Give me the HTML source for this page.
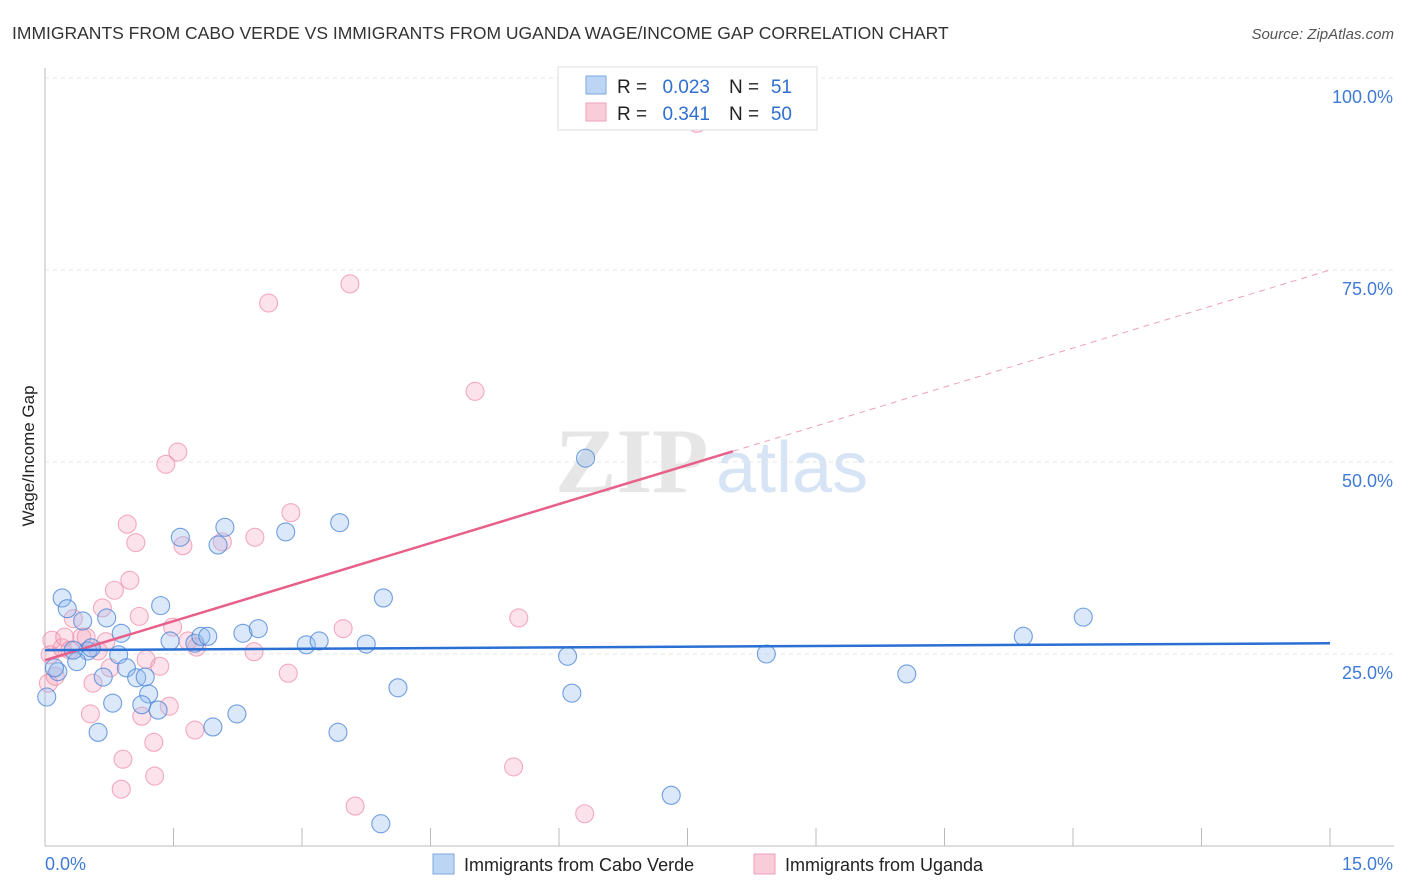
<!DOCTYPE html>
<html><head><meta charset="utf-8"><style>
body{margin:0;background:#fff;font-family:"Liberation Sans",sans-serif;}
svg{display:block}
</style></head><body>
<svg id="chart" width="1406" height="892">
<text x="12" y="39" font-size="17.5" fill="#333">IMMIGRANTS FROM CABO VERDE VS IMMIGRANTS FROM UGANDA WAGE/INCOME GAP CORRELATION CHART</text>
<text x="1394" y="39" font-size="15" fill="#555" font-style="italic" text-anchor="end">Source: ZipAtlas.com</text>
<g>
<text x="555" y="492" font-size="92" font-family="Liberation Serif,serif" fill="#e6e6e6" font-weight="bold">ZIP</text>
<text x="716" y="492" font-size="72" fill="#d6e4f5">atlas</text>
</g>
<g id="grid"></g>
<g id="axes"></g>
<g id="marks"></g>
<text transform="translate(34,456) rotate(-90)" font-size="17" fill="#222" text-anchor="middle">Wage/Income Gap</text>
<g>
<rect x="558" y="67" width="259" height="63" fill="#fff" stroke="#ddd"/>
<rect x="586" y="76" width="20" height="18" fill="#bcd5f5" stroke="#7aa6e0"/>
<rect x="586" y="103" width="20" height="18" fill="#f9ccd9" stroke="#eea2b8"/>
<text x="617" y="93" font-size="19" fill="#222">R =</text>
<text x="710" y="93" font-size="19" fill="#2f6fd0" text-anchor="end">0.023</text>
<text x="729" y="93" font-size="19" fill="#222">N =</text>
<text x="792" y="93" font-size="19" fill="#2f6fd0" text-anchor="end">51</text>
<text x="617" y="120" font-size="19" fill="#222">R =</text>
<text x="710" y="120" font-size="19" fill="#2f6fd0" text-anchor="end">0.341</text>
<text x="729" y="120" font-size="19" fill="#222">N =</text>
<text x="792" y="120" font-size="19" fill="#2f6fd0" text-anchor="end">50</text>
</g>
<g>
<rect x="433" y="854" width="21" height="20" fill="#bcd5f5" stroke="#7aa6e0"/>
<text x="464" y="871" font-size="18" fill="#222">Immigrants from Cabo Verde</text>
<rect x="754" y="854" width="21" height="20" fill="#f9ccd9" stroke="#eea2b8"/>
<text x="785" y="871" font-size="18" fill="#222">Immigrants from Uganda</text>
</g>
</svg>
<script>
const blueX=[0.02,0.20,0.26,0.44,0.50,0.37,0.15,0.68,0.62,0.72,0.79,0.89,0.86,0.95,1.07,1.17,1.21,1.13,1.32,1.35,1.46,1.58,1.75,1.82,1.90,1.96,2.02,2.10,2.24,2.31,2.49,2.81,3.05,3.20,3.44,3.42,3.75,3.95,3.92,4.12,6.10,6.15,6.31,7.31,8.42,10.06,11.42,12.12,0.11,0.33,0.54];
const blueY=[19.4,32.3,30.9,29.3,25.4,24.0,22.7,22.0,14.8,29.7,18.6,27.7,24.9,23.2,21.9,22.0,19.8,18.4,17.7,31.3,26.7,40.2,26.4,27.3,27.3,15.5,39.2,41.5,17.2,27.7,28.3,40.9,26.2,26.7,42.1,14.8,26.3,32.3,2.9,20.6,24.7,19.9,50.5,6.6,25.0,22.4,27.3,29.8,23.2,25.5,25.8];
const pinkX=[0.08,0.06,0.04,0.12,0.20,0.23,0.29,0.33,0.43,0.48,0.53,0.56,0.62,0.67,0.71,0.76,0.81,0.89,0.91,0.96,0.99,1.06,1.10,1.13,1.18,1.27,1.28,1.34,1.41,1.45,1.49,1.55,1.61,1.67,1.77,1.75,2.07,2.45,2.44,2.61,2.84,2.87,3.48,3.56,3.62,5.02,5.47,5.53,6.30,7.61];
const pinkY=[26.8,24.9,21.2,22.1,25.8,27.2,25.5,29.6,27.2,27.2,17.2,21.2,25.4,31.0,26.6,23.2,33.3,7.4,11.3,41.9,34.6,39.5,29.9,16.9,24.3,13.5,9.1,23.4,49.7,18.2,28.5,51.3,39.1,26.7,25.9,15.1,39.6,40.2,25.3,70.7,22.5,43.4,28.3,73.2,5.2,59.2,10.3,29.7,4.2,94.1];
const blueTrend=[25.5,26.4];
const pinkTrend=[24.2,75.0];
const pinkSolidEnd=8.03;
const yTicks=[25,50,75,100];
const yTickLabels=["25.0%","50.0%","75.0%","100.0%"];
const xTickVals=[0,1.5,3,4.5,6,7.5,9,10.5,12,13.5,15];
const NS="http://www.w3.org/2000/svg";
const X=v=>45+v*(1285/15);
const Y=v=>846-v*7.68;
function mk(tag,attrs,parent){const e=document.createElementNS(NS,tag);for(const k in attrs)e.setAttribute(k,attrs[k]);parent.appendChild(e);return e;}
const grid=document.getElementById('grid'),axes=document.getElementById('axes'),marks=document.getElementById('marks');
yTicks.forEach((t,i)=>{
 const l=mk('line',{x1:45,x2:1394,y1:Y(t),y2:Y(t),stroke:'#e6e6e6','stroke-dasharray':'4,4'},grid);
 
 
 const tx=mk('text',{x:1393,y:Y(t)+25,'font-size':18,fill:'#3f7bd6','text-anchor':'end'},axes);
 tx.textContent=yTickLabels[i];
 
 
});
const ax=mk('line',{x1:45,x2:45,y1:68,y2:846,stroke:'#bbb'},axes);


const bx=mk('line',{x1:45,x2:1394,y1:846,y2:846,stroke:'#bbb'},axes);


xTickVals.forEach(v=>{
 const t=mk('line',{x1:X(v),x2:X(v),y1:828,y2:846,stroke:'#bbb'},axes);
 
 
});
const xl0=mk('text',{x:45,y:870,'font-size':18,fill:'#3f7bd6'},axes);xl0.textContent="0.0%";


const xl1=mk('text',{x:1393,y:870,'font-size':18,fill:'#3f7bd6','text-anchor':'end'},axes);xl1.textContent="15.0%";


pinkX.forEach((x,i)=>{
 const c=mk('circle',{cx:X(x),cy:Y(pinkY[i]),r:9,fill:'rgba(244,160,185,0.3)',stroke:'rgba(236,130,160,0.65)','stroke-width':1.1},marks);
 
 
});
blueX.forEach((x,i)=>{
 const c=mk('circle',{cx:X(x),cy:Y(blueY[i]),r:9,fill:'rgba(150,190,240,0.35)',stroke:'rgba(70,130,215,0.75)','stroke-width':1.1},marks);
 
 
});
const pAt=v=>pinkTrend[0]+(pinkTrend[1]-pinkTrend[0])*v/15;
const pd=mk('line',{x1:X(pinkSolidEnd),y1:Y(pAt(pinkSolidEnd)),x2:X(15),y2:Y(pinkTrend[1]),stroke:'#eca0b6','stroke-width':1,'stroke-dasharray':'6,5'},marks);


const ps=mk('line',{x1:X(0),y1:Y(pinkTrend[0]),x2:X(pinkSolidEnd),y2:Y(pAt(pinkSolidEnd)),stroke:'#e8608a','stroke-width':2.5},marks);


const bl=mk('line',{x1:X(0),y1:Y(blueTrend[0]),x2:X(15),y2:Y(blueTrend[1]),stroke:'#2a6fd4','stroke-width':2.5},marks);


</script>
</body></html>
